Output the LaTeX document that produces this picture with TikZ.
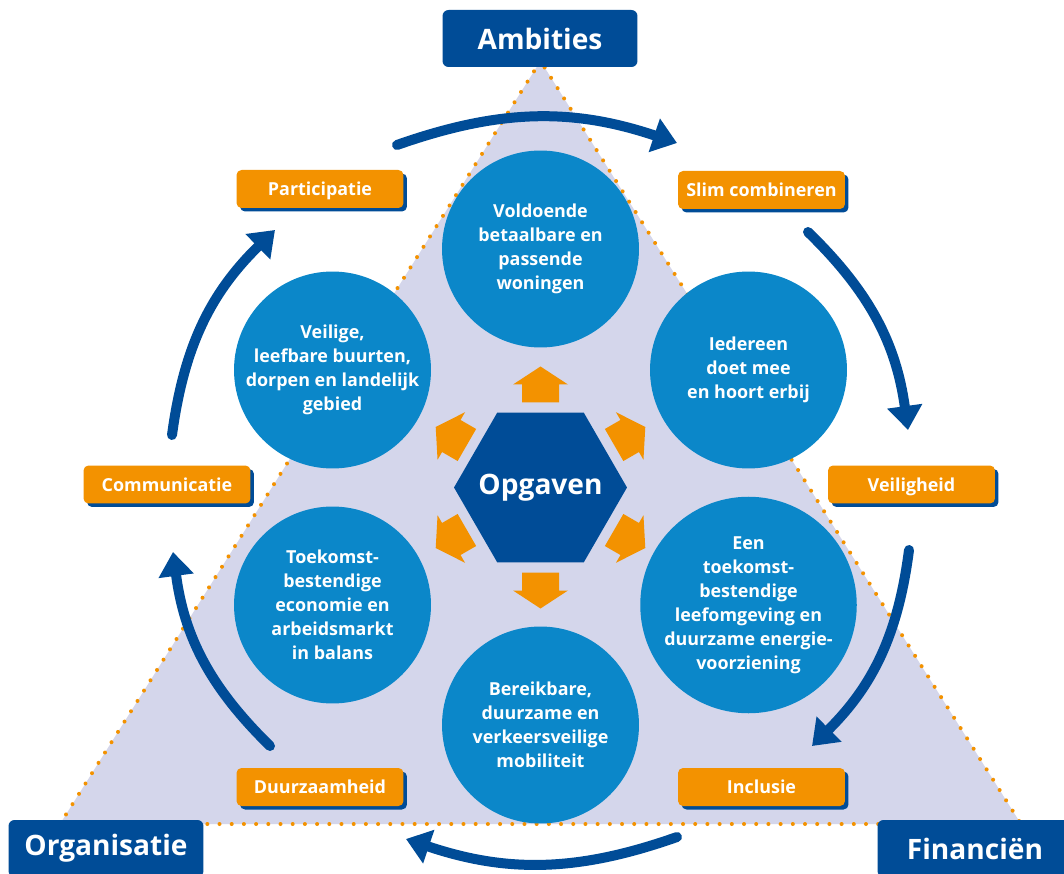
\documentclass[tikz,border=0pt]{standalone}
\usepackage{fontspec}
\setsansfont{Open Sans}
\usetikzlibrary{shapes.geometric,arrows.meta,shadows}
\definecolor{darkblue}{RGB}{0,76,151}
\definecolor{topicblue}{RGB}{11,135,201}
\definecolor{labelorange}{RGB}{243,146,0}
\definecolor{lavender}{RGB}{212,214,235}

\begin{document}
\begin{tikzpicture}[x=0.02cm, y=-0.02cm,
		every node/.style = {font=\sffamily\bfseries, text=white, align=center},
		topic/.style = {shape=circle, fill=topicblue, minimum size=3.94cm, inner sep=0pt,
			font=\sffamily\bfseries\fontsize{10.2}{13.7}\selectfont},
		pillar/.style = {fill=darkblue, rounded corners=0.12cm, minimum width=3.9cm,
			minimum height=1.14cm, font=\sffamily\bfseries\fontsize{16}{18}\selectfont},
		theme/.style = {fill=labelorange, rounded corners=0.1cm, minimum width=3.34cm,
			minimum height=0.76cm, text height=7.4pt, text depth=0pt,
			font=\sffamily\bfseries\fontsize{10.2}{12}\selectfont,
			drop shadow={shadow xshift=0.07cm, shadow yshift=-0.07cm, fill=darkblue, opacity=1}},
		roundarrow/.style = {draw=darkblue, line width=0.2cm, line cap=round,
			-{Triangle[width=0.68cm,length=0.48cm]}},
		spoke/.style = {fill=labelorange}]

	\clip (0,0) rectangle (1064,874);
	\fill[white] (0,0) rectangle (1064,874);

	\coordinate (apex) at (540.5,61);
	\coordinate (lcorner) at (60,824);
	\coordinate (rcorner) at (1021,824);
	\fill[lavender] (apex) -- (lcorner) -- (rcorner) -- cycle;
	\draw[labelorange, line width=0.08cm, line cap=round, dash pattern=on 0pt off 0.244cm]
		(apex) -- (lcorner) -- (rcorner) -- cycle;

	\coordinate (a1) at (397,145);  \coordinate (b1) at (677,143);
	\coordinate (a2) at (808,232);  \coordinate (b2) at (908,430);
	\coordinate (a3) at (909,550);  \coordinate (b3) at (812,746);
	\coordinate (a4) at (677,837);  \coordinate (b4) at (406,839);
	\coordinate (a5) at (270,746);  \coordinate (b5) at (173,552);
	\coordinate (a6) at (172,435);  \coordinate (b6) at (275,230);
	\foreach \i in {1,...,6}
		\draw[roundarrow] (a\i) to[bend left=19] (b\i);

	\node[topic] (woningen) at (540.5,249) {Voldoende\\betaalbare en\\passende\\woningen};
	\node[topic] (iedereen) at (748.5,370) {Iedereen\\doet mee\\en hoort erbij};
	\node[topic] (leefomgeving) at (748.5,605) {Een\\toekomst-\\bestendige\\leefomgeving en\\duurzame energie-\\voorziening};
	\node[topic] (mobiliteit) at (540.5,725) {Bereikbare,\\duurzame en\\verkeersveilige\\mobiliteit};
	\node[topic] (economie) at (332.5,605) {Toekomst-\\bestendige\\economie en\\arbeidsmarkt\\in balans};
	\node[topic] (buurten) at (332.5,370) {Veilige,\\leefbare buurten,\\dorpen en landelijk\\gebied};

	\node[shape=regular polygon, regular polygon sides=6, minimum size=3.46cm, inner sep=0pt,
		fill=darkblue, font=\sffamily\bfseries\fontsize{16}{19}\selectfont] (opgaven) at (540.5,487.5) {\makebox[0pt]{Opgaven}};

	\begin{scope}[shift={(opgaven.center)}]
		\foreach \a in {30,90,...,330}
			\fill[spoke, rotate=\a] (85,-18.5) -- (103,-18.5) -- (103,-27.5) -- (121,0)
				-- (103,27.5) -- (103,18.5) -- (85,18.5) -- cycle;
	\end{scope}

	\node[theme] (participatie) at (320,189) {Participatie};
	\node[theme] (slim) at (761.5,190) {Slim combineren};
	\node[theme] (communicatie) at (167,484.5) {Communicatie};
	\node[theme] (veiligheid) at (911.5,484.5) {Veiligheid};
	\node[theme] (duurzaamheid) at (320,787) {Duurzaamheid};
	\node[theme] (inclusie) at (761.5,787) {Inclusie};

	\node[pillar] (ambities) at (540,38.5) {Ambities};
	\node[pillar] (organisatie) at (106,848.5) {Organisatie};
	\node[pillar] (financien) at (975,848.5) {Financiën};
\end{tikzpicture}
\end{document}
